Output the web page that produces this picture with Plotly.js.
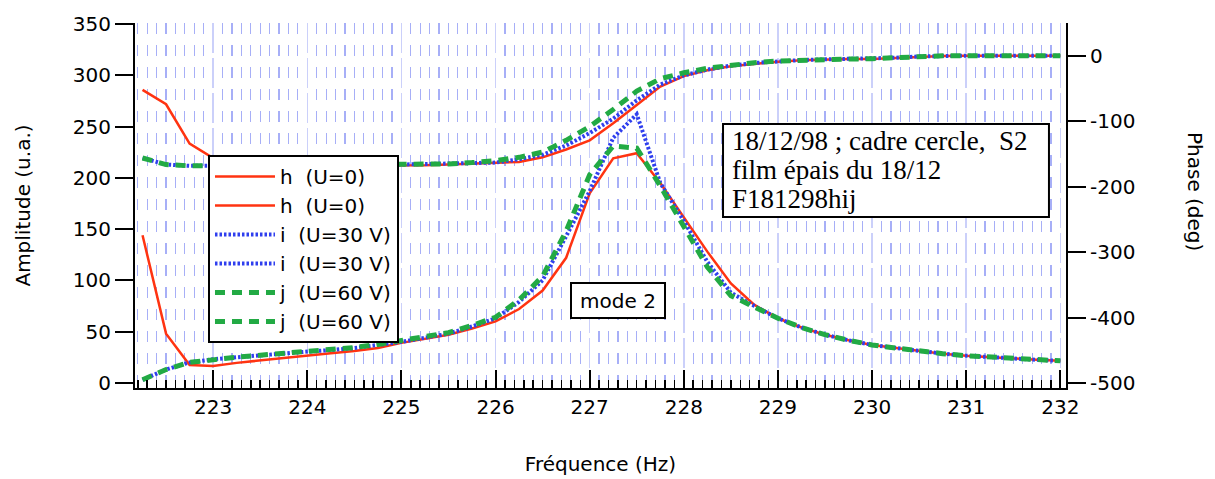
<!DOCTYPE html>
<html><head><meta charset="utf-8">
<script src="https://cdn.plot.ly/plotly-3.0.1.min.js"></script>
<style>html,body{margin:0;padding:0;background:#fff}</style>
</head><body><div id="chart" style="width:1215px;height:479px"></div>
<script>
// Frequencies (Hz)
const freq = [222.25,222.5,222.75,223,223.25,223.5,223.75,224,224.25,224.5,224.75,225,225.25,225.5,225.75,226,226.25,226.5,226.75,227,227.25,227.5,227.75,228,228.25,228.5,228.75,229,229.25,229.5,229.75,230,230.25,230.5,230.75,231,231.25,231.5,231.75,232];
// Amplitude (u.a.)
const ampH = [144,48,17.5,16.5,19.5,22,24.5,27,29,31,34,39,43,47,53,60,72,90,122,185,219,224,195,161,128,97,76,63,54,47,41.5,37,34,31,28.5,26.5,25,24,22.5,21.5];
const ampI = [3,13,20,23,25,27,29,30.5,32,34,37,40,44,48,55,63,79,100,143,187,239,262,195,158,118,88,75,63,54,47,41.5,37,34,31,28.5,26.5,25,24,22.5,21.5];
const ampJ = [3,13,20,23,25,27,29,30.5,32,34.5,37.5,41,45,49,56,64,81,104,148,203,231,229,192,153,113,85,74,63,54,47,41.5,37,34,31,28.5,26.5,25,24,22.5,21.5];
// Phase (deg)
const phaseH = [-52,-74,-134,-156,-164,-167,-168,-168,-168,-168,-167,-167,-167,-166,-165,-164,-162,-155,-143,-129,-103,-75,-47,-31,-22,-16,-12,-9,-7,-5.5,-5,-5,-3.5,-1.5,-0.5,0,0,0,0,0];
const phaseI = [-156,-166,-168,-168,-168,-168,-168,-168,-167,-167,-167,-166,-165,-165,-164,-163,-158,-151,-137,-118,-96,-68,-44,-30,-21,-15,-11,-8.5,-6.5,-5.5,-5,-4.5,-3,-1,0,0,0,0,0,0];
const phaseJ = [-156,-166,-168,-168,-168,-168,-168,-168,-167,-167,-166,-166,-165,-165,-163,-160,-155,-147,-129,-108,-82,-54,-35,-26,-19,-14,-10.5,-8,-6.5,-5.5,-5,-4.5,-2.5,-0.5,0,0,0,0,0,0];
// Labels
const seriesNames = ['h  (U=0)','i  (U=30 V)','j  (U=60 V)'];
const ampTicks = [0,50,100,150,200,250,300,350];
const phaseTickVals = [0,-100,-200,-300,-400,-500];
const phaseTickText = ['0','-100','-200','-300','-400','-500'];
const infoLines = ['18/12/98 ; cadre cercle,  S2','film épais du 18/12','F181298hij'];

const styles = [
  {color:'#ff3311', width:2.5, dash:'solid'},
  {color:'#2f3fee', width:4, dash:'2.5px,2px'},
  {color:'#22aa44', width:5, dash:'10px,7px'}
];
const amps = [ampH, ampI, ampJ];
const phases = [phaseH, phaseI, phaseJ];
const traces = [];
for (let k = 0; k < 3; k++) {
  traces.push({x:freq, y:amps[k], yaxis:'y', type:'scatter', mode:'lines', name:seriesNames[k], line:styles[k]});
  traces.push({x:freq, y:phases[k], yaxis:'y2', type:'scatter', mode:'lines', name:seriesNames[k], line:styles[k]});
}

const xr = [222.17, 232.06];
const tickFont = {family:'DejaVu Sans', size:20, color:'#000'};
const annotations = [
  {text:'mode 2', xref:'paper', yref:'paper', x:0.5188, y:0.241, xanchor:'center', yanchor:'middle',
   showarrow:false, font:{family:'DejaVu Sans', size:20, color:'#000'}, bgcolor:'#fff', bordercolor:'#000',
   borderwidth:2, borderpad:2, width:88, height:29},
  {text:'Phase (deg)', xref:'paper', yref:'paper', x:1.1386, y:0.5397, xanchor:'center', yanchor:'middle',
   textangle:90, showarrow:false, font:{family:'DejaVu Sans', size:20, color:'#000'}}
];
const lineY = [0.6767, 0.5973, 0.517];
infoLines.forEach((t, i) => annotations.push({text:t, xref:'paper', yref:'paper', x:0.6402, y:lineY[i],
  xanchor:'left', yanchor:'middle', showarrow:false, borderpad:0,
  font:{family:'Liberation Serif', size:27, color:'#000'}}));

const layout = {
  width:1215, height:479,
  margin:{l:135, r:149, t:23, b:91},
  paper_bgcolor:'#fff', plot_bgcolor:'#fff',
  font:{family:'DejaVu Sans', size:20, color:'#000'},
  showlegend:true,
  legend:{x:0.0784, y:0.6384, xanchor:'left', yanchor:'top', bgcolor:'#fff', bordercolor:'#000', borderwidth:2,
          font:{family:'DejaVu Sans', size:20, color:'#000'}, itemwidth:60, tracegroupgap:0},
  xaxis:{range:xr, dtick:1, tick0:0, ticks:'inside', ticklen:18, tickwidth:2, tickcolor:'#000',
         showline:true, linecolor:'#000', linewidth:2, zeroline:false,
         showgrid:true, gridcolor:'rgba(160,170,245,0.55)', gridwidth:1.5, griddash:'30px,5px',
         minor:{dtick:0.1, tick0:0, ticks:'inside', ticklen:8, tickwidth:1.5, tickcolor:'#000',
                showgrid:true, gridcolor:'rgba(95,110,240,0.55)', gridwidth:1.2, griddash:'11px,11px'},
         tickfont:tickFont, title:{text:'Fréquence (Hz)', font:{family:'DejaVu Sans', size:20}, standoff:39}},
  xaxis2:{range:xr, overlaying:'x', anchor:'y', side:'bottom', dtick:0.5, tick0:0, ticks:'inside', ticklen:13,
          tickwidth:1.5, tickcolor:'#000', showticklabels:false, showline:false, showgrid:false, zeroline:false},
  yaxis:{range:[-5,351], tickvals:ampTicks, ticks:'outside', ticklen:18, tickwidth:2, tickcolor:'#000',
         showline:true, linecolor:'#000', linewidth:2, zeroline:false, showgrid:false, tickfont:tickFont,
         title:{text:'Amplitude (u.a.)', font:{family:'DejaVu Sans', size:20}, standoff:37}},
  yaxis2:{range:[-507,50], overlaying:'y', side:'right', anchor:'x', tickvals:phaseTickVals, ticktext:phaseTickText,
          ticks:'outside', ticklen:18, tickwidth:2, tickcolor:'#000', showline:true, linecolor:'#000', linewidth:2,
          zeroline:false, showgrid:false, tickfont:tickFont},
  shapes:[{type:'rect', xref:'paper', yref:'paper', x0:0.6316, x1:0.9817, y0:0.4685, y1:0.7233,
           line:{color:'#000', width:2}, fillcolor:'#fff', layer:'above'}],
  annotations:annotations
};
Plotly.newPlot('chart', traces, layout, {displayModeBar:false, staticPlot:true});
</script></body></html>
